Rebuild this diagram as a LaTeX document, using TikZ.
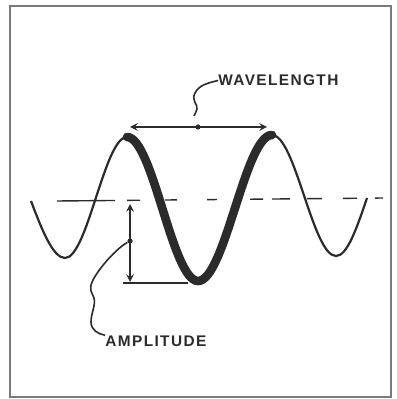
\documentclass[tikz,border=0pt]{standalone}
\usepackage{fontspec}
\newfontfamily\letterfont[LetterSpace=9]{Liberation Sans}
\usepackage{xcolor}
\usetikzlibrary{arrows}
\definecolor{ink}{HTML}{2B2B2B}
\definecolor{framegray}{HTML}{7A7A7A}
\tikzstyle{lettering} = [font=\letterfont\bfseries\fontsize{7.7}{9}\selectfont, text=ink, inner sep=0pt, anchor=west]
\tikzstyle{dot} = [circle, fill=ink, inner sep=0pt, minimum size=2.6pt]
\tikzstyle{arrow} = [draw=ink, line width=0.7pt, <->, >=stealth]
\tikzstyle{leader} = [draw=ink, line width=0.8pt]
\tikzstyle{thinwave} = [draw=ink, line width=1.1pt]
\tikzstyle{thickwave} = [draw=ink, line width=4.3pt, line cap=round]
\tikzstyle{midline} = [draw=ink, line width=0.7pt, dash pattern=on 29pt off 6pt on 6.5pt off 12.5pt on 6pt off 15pt on 5pt off 16.5pt on 6.5pt off 4.5pt on 9pt off 8.5pt on 7.5pt off 10.5pt on 7pt off 9pt on 4pt off 20pt]
\tikzstyle{frame} = [draw=framegray, line width=1pt]

\begin{document}
\begin{tikzpicture}[x=0.5pt, y=-0.5pt]
    \useasboundingbox (0,0) rectangle (396,399);
    \draw [frame] (10,6) rectangle (391,397);

    % the wave, one wavelength drawn heavy
    \draw [thinwave] (31,201) .. controls (42,230) and (53,258) .. (65,258)
        .. controls (87.5,258) and (104.5,137) .. (127,137);
    \draw [thinwave] (272,135) .. controls (295.3,135) and (312.7,256) .. (336,256)
        .. controls (347.3,256) and (356.9,227.7) .. (367,198);
    \draw [thickwave] (127,137) .. controls (152.8,137) and (172.2,281) .. (198,281)
        .. controls (224.9,281) and (245.1,135) .. (272,135);
    \draw [midline] (57,201) -- (384,198);

    % wavelength
    \coordinate (wl) at (130,127);
    \coordinate (wr) at (267,127);
    \draw [arrow] (wl) -- (wr);
    \node (wdot) [dot] at (198,127) {};
    \node (wavetxt) [lettering] at (218,80.5) {WAVELENGTH};
    \draw [leader] (wavetxt.west) .. controls (208,83) and (199,85) .. (195,93)
        .. controls (191,101) and (198,104) .. (197,109)
        .. controls (196,112) and (195,114) .. (194,116);

    % amplitude
    \coordinate (atop) at (130,204);
    \coordinate (abot) at (130,282);
    \draw [arrow] (abot) -- (atop);
    \node (adot) [dot] at (130,241) {};
    \coordinate (bl) at (123,283);
    \coordinate (br) at (188,283);
    \draw [leader] (bl) -- (br);
    \node (amptxt) [lettering] at (105,341) {AMPLITUDE};
    \draw [leader] (amptxt.north west) .. controls (98,334) and (91,330) .. (91,322)
        .. controls (91,313) and (96,305) .. (94,298)
        .. controls (92,292) and (88,290) .. (93,280)
        .. controls (99,268) and (117,248) .. (adot);
\end{tikzpicture}
\end{document}
